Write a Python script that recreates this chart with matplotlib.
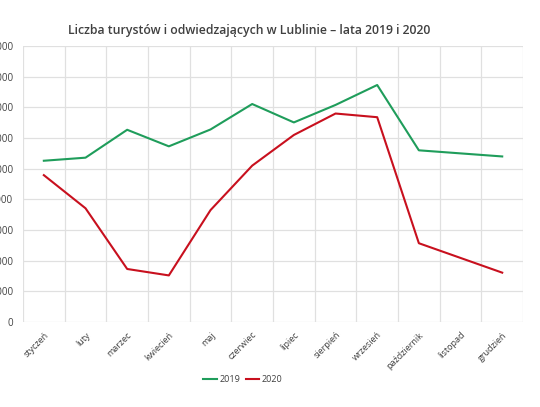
import numpy as np
import matplotlib
matplotlib.use('Agg')
import matplotlib.pyplot as plt

plt.rcParams['font.family'] = ['Open Sans', 'DejaVu Sans']

months = ['styczeń', 'luty', 'marzec', 'kwiecień', 'maj', 'czerwiec', 'lipiec',
          'sierpień', 'wrzesień', 'październik', 'listopad', 'grudzień']
# listopad brak danych - linia łączy październik z grudniem
t2019 = [52600, 53600, 62700, 57300, 62800, 71100, 65100, 70800, 77300, 56000, None, 54000]
t2020 = [47900, 37100, 17300, 15200, 36500, 51000, 61000, 68000, 66800, 25700, None, 16100]
y_ticks = list(range(0, 90001, 10000))

fig = plt.figure(figsize=(5.4, 4.07), dpi=100)
ax = fig.add_axes([0.0426, 0.2088, 0.926, 0.678])

x = np.arange(len(months))
for vals, col, lab in [(t2019, '#1f9d5b', '2019'), (t2020, '#c8101e', '2020')]:
    xs = [i for i, v in zip(x, vals) if v is not None]
    ys = [v for v in vals if v is not None]
    ax.plot(xs, ys, color=col, lw=1.5, label=lab)

ax.set_xlim(-0.5, 11.5)
ax.set_ylim(0, 90000)
ax.set_yticks(y_ticks)
ax.set_yticklabels([str(v) for v in y_ticks], fontsize=7, color='#404040')
ax.set_xticks(x)
ax.set_xticklabels(months, fontsize=6.5, color='#404040', rotation=45,
                   ha='right', rotation_mode='anchor')
ax.set_xticks(np.arange(-0.5, 12, 1), minor=True)
ax.tick_params(axis='both', which='both', length=0)
ax.tick_params(axis='y', pad=7)
ax.tick_params(axis='x', pad=6)
ax.grid(axis='y', color='#e0e0e0', lw=0.9)
ax.grid(axis='x', which='minor', color='#e0e0e0', lw=0.9)
for s in ax.spines.values():
    s.set_visible(False)
ax.set_axisbelow(True)

fig.text(0.461, 0.925, 'Liczba turystów i odwiedzających w Lublinie – lata 2019 i 2020',
         ha='center', va='center', fontsize=8.8, color='#404040', fontweight='semibold')

fig.legend(loc='center', bbox_to_anchor=(0.45, 0.068), ncol=2, frameon=False,
           fontsize=6.5, handlelength=1.5, handletextpad=0.3, columnspacing=0.6,
           labelcolor='#404040')

fig.savefig('out.png', dpi=100)
